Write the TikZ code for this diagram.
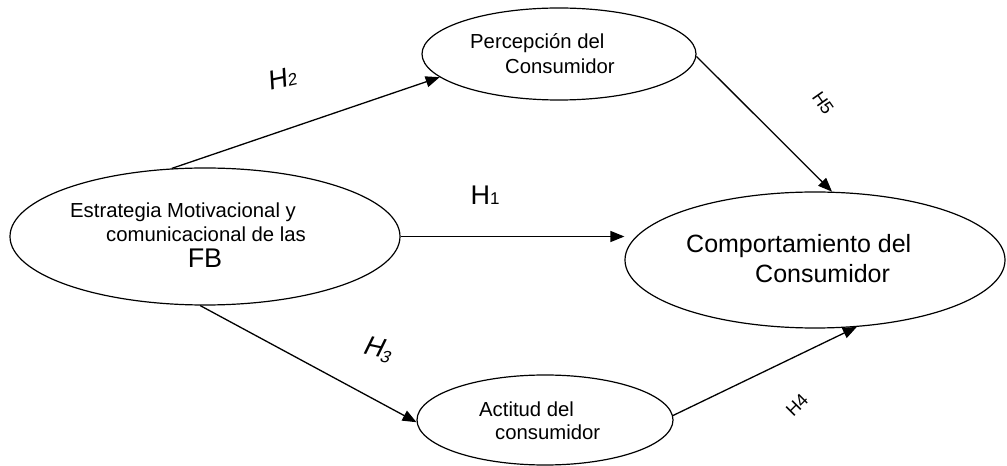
\documentclass[tikz,border=0pt]{standalone}
\usepackage{fontspec}
\setmainfont{Liberation Sans}
\usetikzlibrary{arrows.meta,shapes.geometric}
\begin{document}
\begin{tikzpicture}[x=1pt,y=1pt,
  oval/.style={draw,ellipse,line width=1.2pt,inner sep=0pt},
  txt/.style={anchor=base west,inner sep=0pt,font=\fontsize{20.3}{23}\selectfont},
  big/.style={anchor=base west,inner sep=0pt,font=\fontsize{25}{28}\selectfont},
  conn/.style={line width=1.3pt,-{Triangle[length=14pt,width=11pt]}},
  hlab/.style={inner sep=0pt,font=\fontsize{27}{30}\selectfont}
]
\useasboundingbox (0,0) rectangle (1007,466);
\node[oval,minimum width=390pt,minimum height=137pt] (L) at (205,229.5) {};
\node[oval,minimum width=274pt,minimum height=92pt] (T) at (559,412) {};
\node[oval,minimum width=380pt,minimum height=136pt] (R) at (815,206) {};
\node[oval,minimum width=256pt,minimum height=90pt] (B) at (545,46) {};
% texts
\node[txt] (l1) at (70,248) {Estrategia Motivacional y};
\node[txt] (l2) at (106,224) {comunicacional de las};
\node[big,anchor=base,font=\fontsize{27}{30}\selectfont] (l3) at (205,198) {FB};
\node[txt] (t1) at (470,417) {Percepción del};
\node[txt] (t2) at (505,392) {Consumidor};
\node[big] (r1) at (686,213) {Comportamiento del};
\node[big] (r2) at (755,183) {Consumidor};
\node[txt] (b1) at (479,49) {Actitud del};
\node[txt] (b2) at (495,26) {consumidor};
% connectors
\draw[conn] (L.116) -- (T.191);
\draw[conn] (L.east) -- (L.east -| R.west);
\draw[conn] (L.266) -- (B.181);
\draw[conn] (T.359) -- (R.76);
\draw[conn] (B.2) -- (R.302);
% labels
\node[hlab,rotate=12,xslant=0.15] (h2) at (283,388) {H{\fontsize{17}{19}\selectfont 2}};
\node[hlab] (h1) at (485,271) {H{\fontsize{17}{19}\selectfont 1}};
\node[hlab,rotate=-12,xslant=0.25] (h3) at (379,116) {H\raisebox{-4pt}{\fontsize{17}{19}\selectfont 3}};
\node[inner sep=0pt,font=\fontsize{18}{20}\selectfont,rotate=-55] (h5) at (823,363) {H5};
\node[inner sep=0pt,font=\fontsize{18}{20}\selectfont,rotate=45] (h4) at (797,61) {H4};
\end{tikzpicture}
\end{document}
